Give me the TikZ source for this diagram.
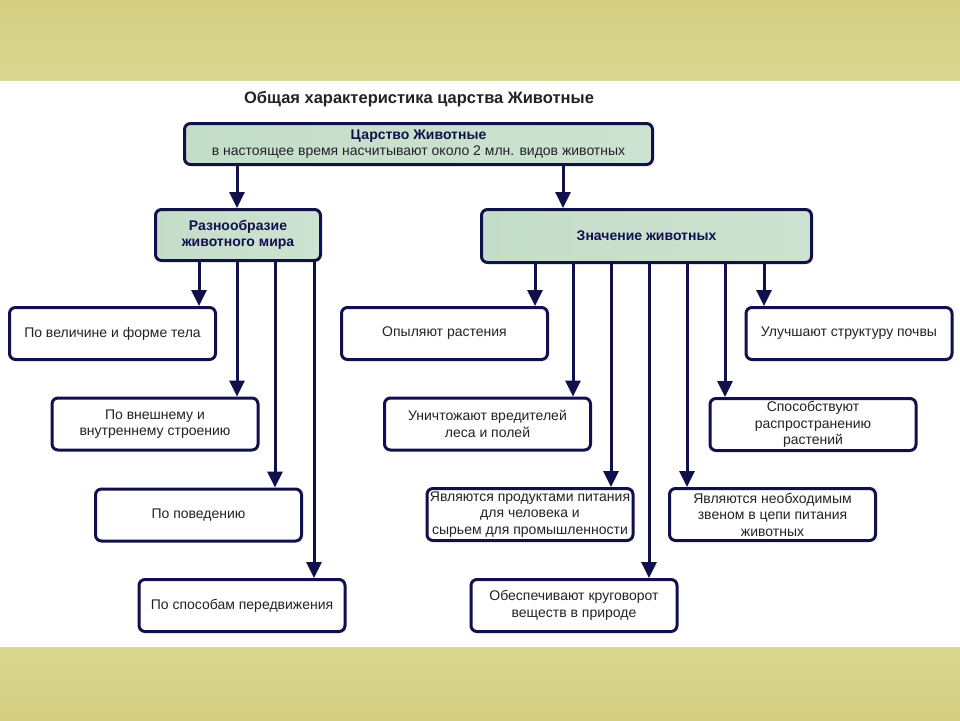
\documentclass[tikz,border=0pt]{standalone}
\usepackage{fontspec}
\setmainfont{Liberation Sans}
\usetikzlibrary{arrows.meta, positioning}

\definecolor{navy}{HTML}{10104C}
\definecolor{olive}{HTML}{D4CF80}
\definecolor{paleolive}{HTML}{D9D690}
\definecolor{greenL}{HTML}{C4DDC8}
\definecolor{greenM}{HTML}{E8F2E9}
\definecolor{greenR}{HTML}{CDE3D1}
\definecolor{txt}{HTML}{222228}

\begin{document}
\begin{tikzpicture}[
    x=1pt, y=-1pt,
    box/.style = {rectangle, draw=navy, line width=3pt, rounded corners=6pt, fill=white,
        text=txt, align=center, minimum width=206pt, minimum height=52pt, inner sep=1pt,
        font=\fontsize{14}{16.5}\selectfont},
    headbox/.style = {box, fill=none, left color=greenL, middle color=greenM, right color=greenR,
        text=navy, font=\fontsize{14}{16.5}\selectfont\bfseries},
    arrow/.style = {-{Triangle[width=15pt, length=16pt]}, line width=3pt, draw=navy}
]
\useasboundingbox (0,0) rectangle (960,720);

% Background bands
\fill[white] (0,0) rectangle (960,720);
\shade[top color=olive, bottom color=paleolive] (0,0) rectangle (960,80);
\shade[top color=paleolive, bottom color=olive] (0,647) rectangle (960,720);

% Title
\node[text=txt, font=\fontsize{16.5}{18}\selectfont\bfseries] (title) at (419,99)
    {Общая характеристика царства Животные};

% Define nodes
\node[headbox, minimum width=468pt, minimum height=41pt, inner sep=0pt] (kingdom) at (418.5,144)
    {Царство Животные\\[-1pt]
     {\mdseries\color{txt}в настоящее время насчитывают около 2 млн. видов животных}};
\node[headbox, minimum width=165pt, minimum height=51pt] (variety) at (238,235)
    {Разнообразие\\животного мира};
\node[headbox, minimum width=330pt, minimum height=53pt] (meaning) at (646.5,236)
    {Значение животных};

\node[box] (size) at (112.5,333.5) {По величине и форме тела};
\node[box] (structure) at (155,424) {По внешнему и\\внутреннему строению};
\node[box] (behaviour) at (198.5,515) {По поведению};
\node[box] (movement) at (242,605.5) {По способам передвижения};

\node[box] (pollinate) at (444.5,333.5) {Опыляют растения};
\node[box] (pests) at (487.5,424) {Уничтожают вредителей\\леса и полей};
\node[box, inner sep=0pt] (food) at (530,514.5)
    {Являются продуктами питания\\для человека и\\сырьем для промышленности};
\node[box] (cycle) at (574,605.5) {Обеспечивают круговорот\\веществ в природе};
\node[box] (chain) at (772.5,514.5) {Являются необходимым\\звеном в цепи питания\\животных};
\node[box] (spread) at (813,424.5) {Способствуют\\распространению\\растений};
\node[box] (soil) at (849,333.5) {Улучшают структуру почвы};

% Draw arrows
\draw[arrow] (kingdom.south -| 237,0) -- (variety.north -| 237,0);
\draw[arrow] (kingdom.south -| 563,0) -- (meaning.north -| 563,0);

\draw[arrow] (variety.south -| 199,0) -- (size.north -| 199,0);
\draw[arrow] (variety.south -| 237,0) -- (structure.north -| 237,0);
\draw[arrow] (variety.south -| 275,0) -- (behaviour.north -| 275,0);
\draw[arrow] (variety.south -| 314,0) -- (movement.north -| 314,0);

\draw[arrow] (meaning.south -| 535,0) -- (pollinate.north -| 535,0);
\draw[arrow] (meaning.south -| 573,0) -- (pests.north -| 573,0);
\draw[arrow] (meaning.south -| 611,0) -- (food.north -| 611,0);
\draw[arrow] (meaning.south -| 649,0) -- (cycle.north -| 649,0);
\draw[arrow] (meaning.south -| 687,0) -- (chain.north -| 687,0);
\draw[arrow] (meaning.south -| 725,0) -- (spread.north -| 725,0);
\draw[arrow] (meaning.south -| 764,0) -- (soil.north -| 764,0);

\end{tikzpicture}
\end{document}
